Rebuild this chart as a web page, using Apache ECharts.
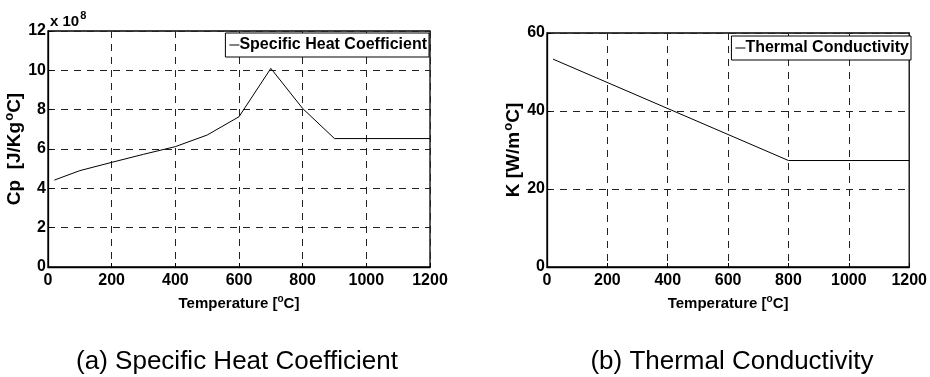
<!DOCTYPE html>
<html>
<head>
<meta charset="utf-8">
<script src="https://cdn.jsdelivr.net/npm/echarts@6/dist/echarts.min.js"></script>
<style>
html,body{margin:0;padding:0;background:#fff;}
#chart{width:930px;height:377px;}
</style>
</head>
<body>
<div id="chart"></div>
<script>
// ---- data ----
// (a) Specific heat coefficient, values in units of 1e8 (axis multiplier "x 10^8")
const cpTemp = [20, 100, 200, 300, 400, 500, 600, 700, 800, 900, 1200];
const cpVals = [4.42, 4.9, 5.32, 5.73, 6.12, 6.71, 7.64, 10.1, 8.06, 6.53, 6.53];
// (b) Thermal conductivity
const kTemp = [20, 800, 1200];
const kVals = [53.3, 27.3, 27.3];
// axis ticks
const xTicks = [0, 200, 400, 600, 800, 1000, 1200];
const cpTicks = [0, 2, 4, 6, 8, 10, 12];
const kTicks = [0, 20, 40, 60];
const captions = ['(a) Specific Heat Coefficient', '(b) Thermal Conductivity'];
const seriesNames = ['Specific Heat Coefficient', 'Thermal Conductivity'];

const FW = "'Liberation Sans', Arial, sans-serif";

function pairs(xs, ys){ return xs.map((x,i)=>[x, ys[i]]); }

const chart = echarts.init(document.getElementById('chart'), null, {renderer:'canvas'});

const supRichY = {
  a: {fontFamily: FW, fontWeight: 'bold', fontSize: 19, color: '#000'},
  s: {fontFamily: FW, fontWeight: 'bold', fontSize: 13, color: '#000', padding: [0,0,10,1]}
};

function xAxisCfg(gi){
  return {
    gridIndex: gi, type: 'value', min: xTicks[0], max: xTicks[xTicks.length-1], interval: xTicks[1]-xTicks[0],
    axisLine: {show: true, lineStyle: {color: '#000', width: 1.3}},
    axisTick: {show: true, inside: true, length: 4, lineStyle: {color: '#000'}},
    axisLabel: {fontFamily: FW, fontWeight: 'bold', fontSize: 16, color: '#000', margin: 6,
                formatter: v => String(v)},
    splitLine: {show: true, lineStyle: {color: '#222', type: [7, 6], width: 1}},
    name: '{a|Temperature [}{s|o}{a|C]}', nameLocation: 'middle', nameGap: 27,
    nameTextStyle: {rich: {
      a: {fontFamily: FW, fontWeight: 'bold', fontSize: 15, color: '#000'},
      s: {fontFamily: FW, fontWeight: 'bold', fontSize: 10, color: '#000', padding: [0,0,9,0]}
    }}
  };
}
function yAxisCfg(gi, ticks, name, gap){
  return {
    gridIndex: gi, type: 'value', min: ticks[0], max: ticks[ticks.length-1], interval: ticks[1]-ticks[0],
    axisLine: {show: true, lineStyle: {color: '#000', width: 1.3}},
    axisTick: {show: true, inside: true, length: 4, lineStyle: {color: '#000'}},
    axisLabel: {fontFamily: FW, fontWeight: 'bold', fontSize: 16, color: '#000', margin: 2,
                formatter: v => String(v)},
    splitLine: {show: true, lineStyle: {color: '#222', type: [7, 6], width: 1}},
    name: name, nameLocation: 'middle', nameGap: gap, nameRotate: 90,
    nameTextStyle: {rich: supRichY}
  };
}

const legendText = {fontFamily: FW, fontWeight: 'bold', fontSize: 16, color: '#000', padding: [0,0,0,-5]};

const option = {
  animation: false,
  backgroundColor: '#fff',
  title: [
    {text: captions[0], left: 232, top: 344, textAlign: 'center',
     textStyle: {fontFamily: FW, fontWeight: 'normal', fontSize: 26, color: '#000'}},
    {text: captions[1], left: 727, top: 344, textAlign: 'center',
     textStyle: {fontFamily: FW, fontWeight: 'normal', fontSize: 26, color: '#000'}}
  ],
  legend: [
    {data: [seriesNames[0]], right: 930-429, top: 33, orient: 'vertical',
     borderColor: '#000', borderWidth: 1, backgroundColor: '#fff', padding: [4, 2, 4, 4],
     itemWidth: 10, itemHeight: 1, icon: 'rect', textStyle: legendText},
    {data: [seriesNames[1]], right: 930-911, top: 36, orient: 'vertical',
     borderColor: '#000', borderWidth: 1, backgroundColor: '#fff', padding: [4, 2, 4, 4],
     itemWidth: 10, itemHeight: 1, icon: 'rect', textStyle: legendText}
  ],
  grid: [
    {left: 48, top: 31, width: 382, height: 236, show: true, borderColor: '#000', borderWidth: 1.3, backgroundColor: 'transparent'},
    {left: 547, top: 33, width: 365, height: 234, show: true, borderColor: '#000', borderWidth: 1.3, backgroundColor: 'transparent'}
  ],
  xAxis: [xAxisCfg(0), xAxisCfg(1)],
  yAxis: [
    yAxisCfg(0, cpTicks, '{a|Cp  [J/Kg}{s|o}{a|C]}', 16),
    yAxisCfg(1, kTicks, '{a|K [W/m}{s|o}{a|C]}', 16)
  ],
  graphic: [
    {type: 'text', left: 50, top: 10, style: {
      text: '{a|x 10}{s|8}', rich: {
        a: {fontFamily: FW, fontWeight: 'bold', fontSize: 15, color: '#000'},
        s: {fontFamily: FW, fontWeight: 'bold', fontSize: 11, color: '#000', padding: [0,0,12,1]}
      }}}
  ],
  series: [
    {name: seriesNames[0], type: 'line', xAxisIndex: 0, yAxisIndex: 0, data: pairs(cpTemp, cpVals),
     showSymbol: false, symbol: 'none', lineStyle: {color: '#000', width: 1}, itemStyle: {color: '#000'}},
    {name: seriesNames[1], type: 'line', xAxisIndex: 1, yAxisIndex: 1, data: pairs(kTemp, kVals),
     showSymbol: false, symbol: 'none', lineStyle: {color: '#000', width: 1}, itemStyle: {color: '#000'}}
  ]
};
chart.setOption(option);
</script>
</body>
</html>
